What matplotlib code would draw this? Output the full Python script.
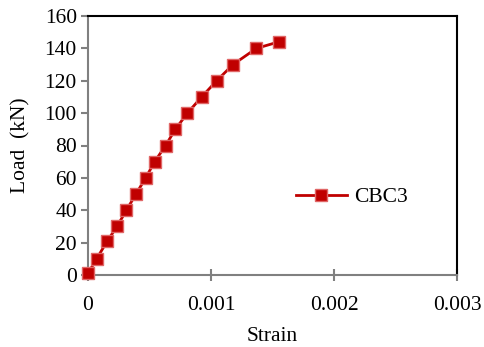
import matplotlib
matplotlib.use("Agg")
import matplotlib.pyplot as plt

strain = [0.0, 0.00007, 0.000157, 0.000236, 0.000312, 0.00039, 0.000469, 0.000542,
          0.000631, 0.00071, 0.000808, 0.000924, 0.001046, 0.001179, 0.001369, 0.00155]
load = [1, 10, 21, 30, 40, 50, 60, 70, 80, 90, 100, 110, 120, 130, 140, 144]
x_ticks = [0, 0.001, 0.002, 0.003]
x_labels = ["0", "0.001", "0.002", "0.003"]
y_ticks = [0, 20, 40, 60, 80, 100, 120, 140, 160]

plt.rcParams["font.family"] = ["Liberation Serif", "DejaVu Serif"]

fig = plt.figure(figsize=(4.84, 3.47), dpi=100)
ax = fig.add_axes([88 / 484, 1 - 275 / 347, (457 - 88) / 484, (275 - 16) / 347])

ax.plot(strain, load, color="#C00000", lw=2, marker="s", ms=8,
        markerfacecolor="#C00000", markeredgecolor="#E06666", markeredgewidth=1,
        label="CBC3", clip_on=False, zorder=3)

ax.set_xlim(0, 0.003)
ax.set_ylim(0, 160)
ax.set_xticks(x_ticks)
ax.set_xticklabels(x_labels)
ax.set_yticks(y_ticks)
ax.tick_params(axis="x", direction="inout", length=8, width=1.5, color="#808080",
               labelsize=15.5, pad=11)
ax.tick_params(axis="y", direction="out", length=5, width=1.5, color="#808080",
               labelsize=15.5, pad=3)

for side in ["left", "bottom"]:
    ax.spines[side].set_color("#808080")
    ax.spines[side].set_linewidth(1.5)
for side in ["top", "right"]:
    ax.spines[side].set_color("black")
    ax.spines[side].set_linewidth(1.5)

ax.set_xlabel("Strain", fontsize=15.5, labelpad=9)
ax.set_ylabel("Load  (kN)", fontsize=15.5, labelpad=10)

ax.legend(loc="center left", bbox_to_anchor=(0.51, 0.30), frameon=False,
          fontsize=15.5, handlelength=2.4, handletextpad=0.3)

fig.savefig("out.png", dpi=100)
